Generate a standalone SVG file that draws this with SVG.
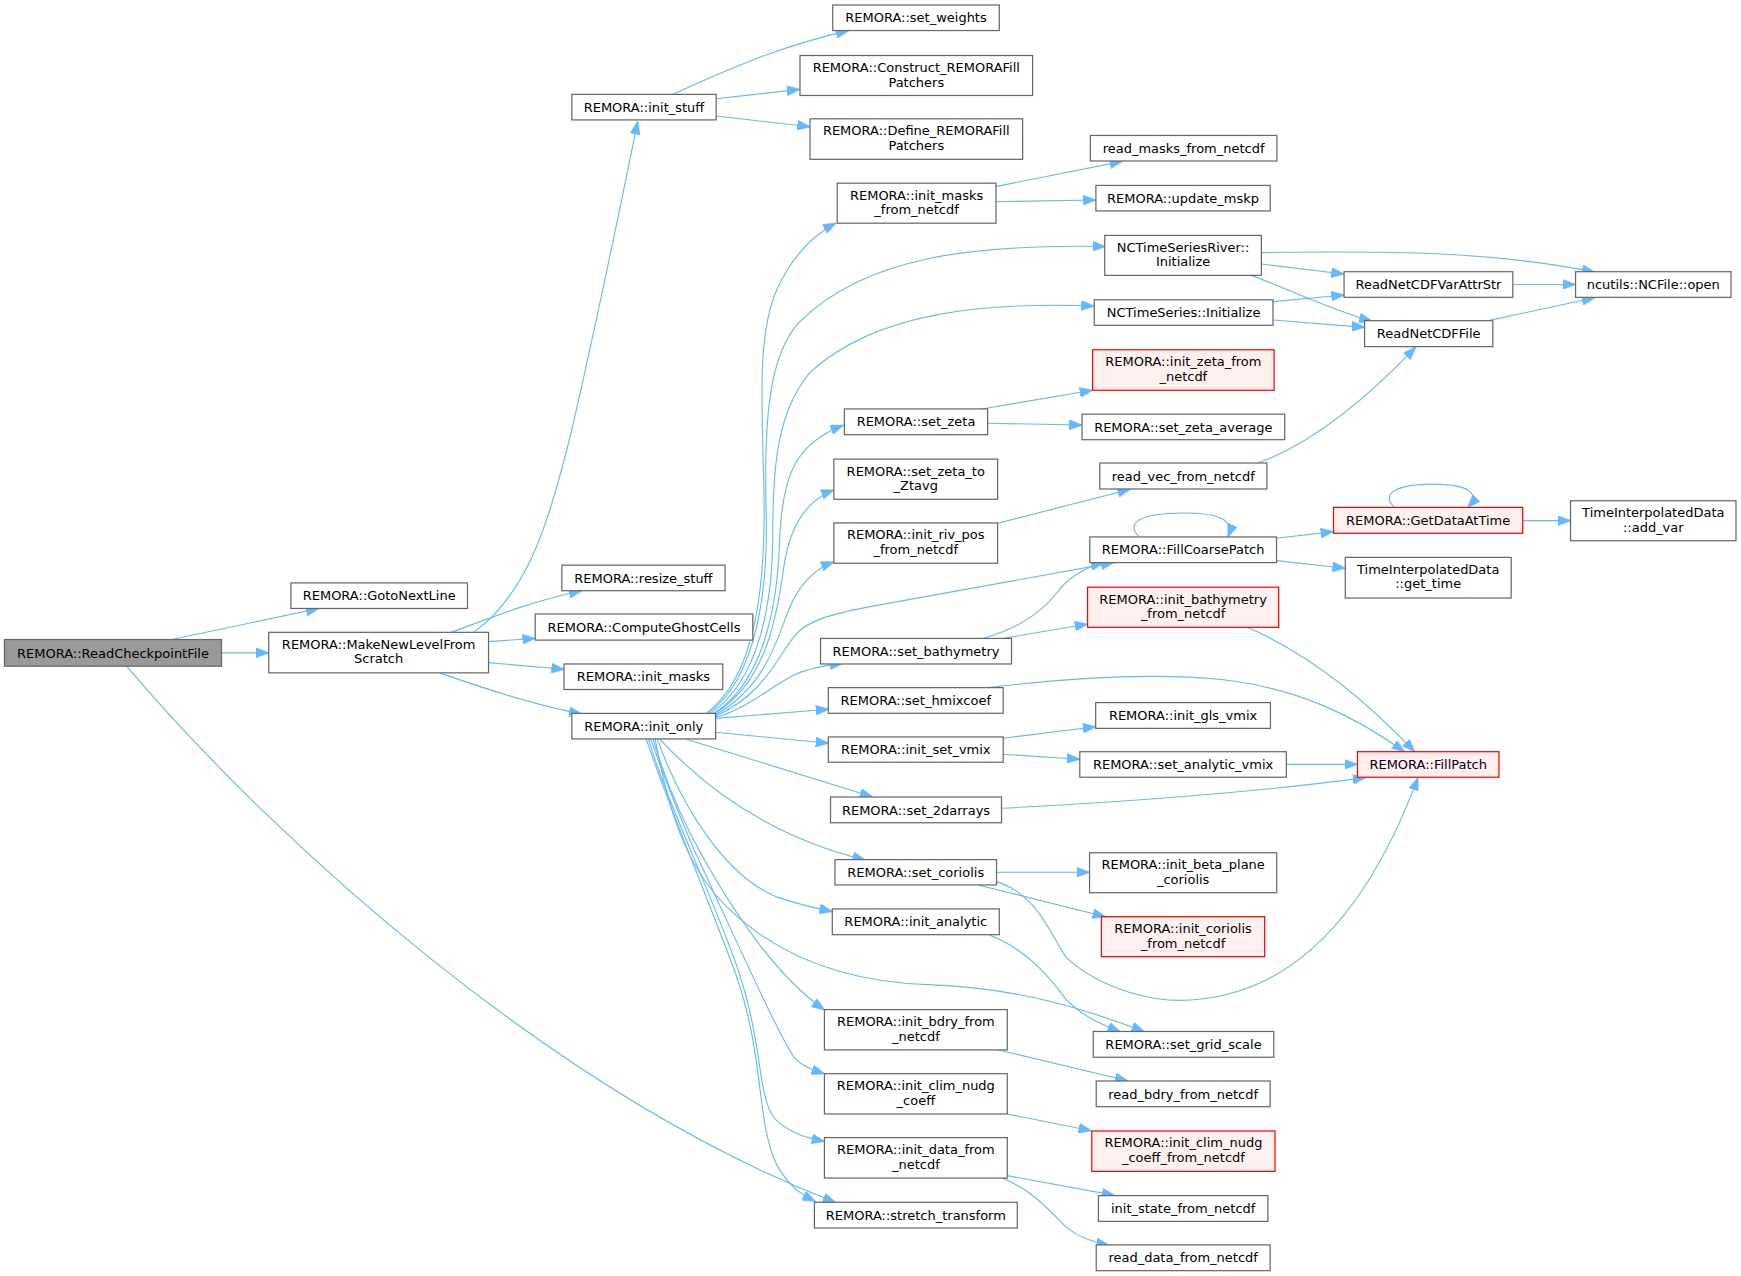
<svg xmlns="http://www.w3.org/2000/svg" width="1741" height="1276" viewBox="0 0 1741 1276">
<style>
.n rect{fill:#ffffff;stroke:#666666;stroke-width:1.1}
.r rect{fill:#FFF0F0;stroke:#FF0000;stroke-width:1.1}
.root rect{fill:#999999;stroke:#666666;stroke-width:1.1}
text{font-family:"DejaVu Sans","Liberation Sans",sans-serif;font-size:11.7px;text-anchor:middle;fill:#000000}
.e path{fill:none;stroke:#63B8FF;stroke-width:1;marker-end:url(#a)}
</style>
<defs>
<marker id="a" markerUnits="userSpaceOnUse" markerWidth="12" markerHeight="9" viewBox="0 0 12 9" refX="11.5" refY="4.5" orient="auto">
<path d="M0,0 L12,4.5 L0,9 z" fill="#63B8FF" stroke="#63B8FF" stroke-width="0.5"/>
</marker>
</defs>
<rect width="1741" height="1276" fill="#ffffff"/>
<g transform="scale(1.11033)">
<g id="edges" class="e">
<path d="M155.6,575.8 L287.2,548"/>
<path d="M199.5,588 L242,588"/>
<path d="M114,600 C 250,760 500,985 752.6,1083"/>
<path d="M426.5,569.5 C 475,535 495,470 515,387 C 535,300 560,180 574.3,109.5"/>
<path d="M406.5,569.5 C 440,557 480,541 524,532"/>
<path d="M439.8,577.9 L482.1,574.9"/>
<path d="M439.8,596.8 L508.1,602.8"/>
<path d="M395.5,605.8 C 430,618 480,635 524,643"/>
<path d="M605.9,85 C 650,65 700,42 764.3,27.6"/>
<path d="M645,88.9 L720.2,80.5"/>
<path d="M645,104.5 L729.6,114.1"/>
<path d="M636,642.5 C 680,610 690,530 688,440 C 686,360 682,300 700,260 C 715,228 735,210 753,201"/>
<path d="M638,642.5 C 682,610 692,530 690,460 C 688,380 692,320 720,290 C 780,230 880,220 995.6,222"/>
<path d="M640,642.5 C 685,612 696,540 696,480 C 696,420 700,370 730,335 C 790,280 890,272 985.3,275.6"/>
<path d="M642,643 C 688,615 700,545 702,490 C 704,430 715,400 759.5,383"/>
<path d="M643,643 C 690,615 700,555 706,510 C 712,470 728,450 751,441.3"/>
<path d="M644,644 C 690,618 700,575 710,550 C 720,525 735,512 751,506"/>
<path d="M644,645 C 690,625 700,590 718,570 C 730,558 750,553 780,547 L 1003,506.7"/>
<path d="M644,646 C 670,640 692,620 715,608 C 730,601 745,599 759,597.5"/>
<path d="M644.3,647 L746.2,638.8"/>
<path d="M644.3,659.5 L746.2,669.4"/>
<path d="M617.6,665.5 L786,717.8"/>
<path d="M594,665.5 C 640,715 700,755 779.2,774.5"/>
<path d="M592,665.5 C 615,730 655,790 700,808 C 720,815 735,818 749.6,821"/>
<path d="M590,665.5 C 600,720 615,780 657,819 C 700,860 760,885 840,887 C 920,890 980,910 1030.6,929"/>
<path d="M588,665.5 C 600,705 615,740 632,770 C 660,820 700,880 742.5,909.5"/>
<path d="M586,665.5 C 600,705 612,735 625,765 C 660,840 700,930 715,952 C 722,960 730,963 742.5,967"/>
<path d="M584,665.5 C 600,720 630,780 660,860 C 690,940 680,990 700,1010 C 715,1022 728,1025 742.5,1028"/>
<path d="M582,665.5 C 600,720 630,790 660,870 C 690,950 680,1010 700,1050 C 712,1070 722,1076 734.3,1082"/>
<path d="M884.2,368.3 L984,351.5"/>
<path d="M889.2,381.2 L974.5,382.8"/>
<path d="M896.5,168.1 L1010.8,145.3"/>
<path d="M896.5,181.7 L987,180.1"/>
<path d="M898.5,471.3 L1018,440.6"/>
<path d="M904.2,574.9 L979.5,562"/>
<path d="M885.8,574.9 C 920,565 940,550 955,530 C 965,518 980,510 994,507"/>
<path d="M890.8,619.3 C 950,612 1030,605 1100,612 C 1170,620 1220,645 1265,677"/>
<path d="M903.5,664.9 L986.8,654.5"/>
<path d="M903.5,679.3 L972.5,683.8"/>
<path d="M901.9,728 C 1000,723 1120,715 1230,700.4"/>
<path d="M897.5,785.6 L981.3,785.6"/>
<path d="M880.9,797 L995.6,825.6"/>
<path d="M897.5,794 C 935,806 945,840 960,862 C 990,890 1040,905 1080,900 C 1180,890 1240,800 1277,700.4"/>
<path d="M890.9,842 C 925,855 945,880 960,900 C 975,915 990,922 1009,929"/>
<path d="M899.2,945.6 L1015.6,973.4"/>
<path d="M907.2,1003.3 L982.9,1018.4"/>
<path d="M907.2,1058.8 L1003.9,1076.6"/>
<path d="M902.5,1061 C 930,1072 945,1090 960,1105 C 972,1115 985,1119 999,1121.6"/>
<path d="M1136,227.5 C 1250,226 1340,226 1436.2,245"/>
<path d="M1136.1,237.8 L1210.5,246.8"/>
<path d="M1127,248 C 1160,260 1200,280 1235.6,289.2"/>
<path d="M1146.4,271.7 L1210.5,265.7"/>
<path d="M1146.4,288.2 L1229,294.8"/>
<path d="M1362.5,256.2 L1419,256.2"/>
<path d="M1340.4,288.8 L1436.2,268.2"/>
<path d="M1132.4,417.3 C 1180,400 1230,360 1275,312.6"/>
<path d="M1149.7,484.8 L1201,478.8"/>
<path d="M1149.7,504.9 L1211.6,511.8"/>
<path d="M1026,483.6 C 1012,470 1030,462 1065,462 C 1098,462 1112,468 1106,483.6"/>
<path d="M1256,457 C 1242,444 1260,436 1290,436 C 1322,436 1334,444 1322,457"/>
<path d="M1371.4,468.9 L1414.5,468.9"/>
<path d="M1123.3,565 C 1170,585 1220,620 1274,677"/>
<path d="M1158.5,688.4 L1222.6,688.4"/>
</g>
<g id="ReadCheckpointFile" class="root"><rect x="4" y="576" width="195.5" height="24"/><text x="101.75" y="592.2">REMORA::ReadCheckpointFile</text></g>
<g id="GotoNextLine" class="n"><rect x="262" y="525" width="159" height="23"/><text x="341.5" y="540.7">REMORA::GotoNextLine</text></g>
<g id="MakeNewLevelFromScratch" class="n"><rect x="242" y="569.5" width="198" height="36.5"/><text x="341" y="584.3">REMORA::MakeNewLevelFrom</text><text x="341" y="597.5">Scratch</text></g>
<g id="init_stuff" class="n"><rect x="515" y="85" width="130" height="23"/><text x="580" y="100.7">REMORA::init_stuff</text></g>
<g id="resize_stuff" class="n"><rect x="506" y="509" width="147" height="23"/><text x="579.5" y="524.7">REMORA::resize_stuff</text></g>
<g id="ComputeGhostCells" class="n"><rect x="482" y="553" width="196" height="23.5"/><text x="580" y="569">REMORA::ComputeGhostCells</text></g>
<g id="init_masks" class="n"><rect x="508" y="598" width="143" height="23"/><text x="579.5" y="613.7">REMORA::init_masks</text></g>
<g id="init_only" class="n"><rect x="515" y="642.5" width="129.5" height="23"/><text x="579.75" y="658.2">REMORA::init_only</text></g>
<g id="set_weights" class="n"><rect x="750" y="4.5" width="150" height="23"/><text x="825" y="20.2">REMORA::set_weights</text></g>
<g id="Construct_REMORAFillPatchers" class="n"><rect x="720.5" y="50" width="209.5" height="36"/><text x="825.25" y="64.8">REMORA::Construct_REMORAFill</text><text x="825.25" y="78">Patchers</text></g>
<g id="Define_REMORAFillPatchers" class="n"><rect x="729.5" y="107" width="191.5" height="36.5"/><text x="825.25" y="121.8">REMORA::Define_REMORAFill</text><text x="825.25" y="135">Patchers</text></g>
<g id="init_masks_from_netcdf" class="n"><rect x="754" y="165" width="143" height="36"/><text x="825.5" y="179.8">REMORA::init_masks</text><text x="825.5" y="193">_from_netcdf</text></g>
<g id="set_zeta" class="n"><rect x="760.5" y="368.3" width="129" height="23.2"/><text x="825" y="384.1">REMORA::set_zeta</text></g>
<g id="set_zeta_to_Ztavg" class="n"><rect x="751" y="413.5" width="147.5" height="36.2"/><text x="824.75" y="428.3">REMORA::set_zeta_to</text><text x="824.75" y="441.5">_Ztavg</text></g>
<g id="init_riv_pos_from_netcdf" class="n"><rect x="751" y="471" width="147.5" height="36.3"/><text x="824.75" y="485.8">REMORA::init_riv_pos</text><text x="824.75" y="499">_from_netcdf</text></g>
<g id="set_bathymetry" class="n"><rect x="739" y="575" width="172" height="23"/><text x="825" y="590.7">REMORA::set_bathymetry</text></g>
<g id="set_hmixcoef" class="n"><rect x="746" y="619.3" width="157.5" height="23.1"/><text x="824.75" y="635">REMORA::set_hmixcoef</text></g>
<g id="init_set_vmix" class="n"><rect x="746" y="663.7" width="157.5" height="22.8"/><text x="824.75" y="679.3">REMORA::init_set_vmix</text></g>
<g id="set_2darrays" class="n"><rect x="748" y="717.8" width="154" height="23.2"/><text x="825" y="733.6">REMORA::set_2darrays</text></g>
<g id="set_coriolis" class="n"><rect x="752" y="774.2" width="145.5" height="22.8"/><text x="824.75" y="789.8">REMORA::set_coriolis</text></g>
<g id="init_analytic" class="n"><rect x="749.6" y="818.6" width="150.4" height="23.2"/><text x="824.8" y="834.4">REMORA::init_analytic</text></g>
<g id="init_bdry_from_netcdf" class="n"><rect x="742.5" y="909.3" width="164.7" height="36.3"/><text x="824.85" y="924.1">REMORA::init_bdry_from</text><text x="824.85" y="937.3">_netcdf</text></g>
<g id="init_clim_nudg_coeff" class="n"><rect x="742.5" y="967" width="164.7" height="36.3"/><text x="824.85" y="981.8">REMORA::init_clim_nudg</text><text x="824.85" y="995">_coeff</text></g>
<g id="init_data_from_netcdf" class="n"><rect x="742.5" y="1024.6" width="164.7" height="36.4"/><text x="824.85" y="1039.4">REMORA::init_data_from</text><text x="824.85" y="1052.6">_netcdf</text></g>
<g id="stretch_transform" class="n"><rect x="733.5" y="1082.8" width="182.7" height="23.2"/><text x="824.85" y="1098.6">REMORA::stretch_transform</text></g>
<g id="read_masks_from_netcdf" class="n"><rect x="982" y="122" width="168" height="23"/><text x="1066" y="137.7">read_masks_from_netcdf</text></g>
<g id="update_mskp" class="n"><rect x="987" y="167" width="157" height="23"/><text x="1065.5" y="182.7">REMORA::update_mskp</text></g>
<g id="NCTimeSeriesRiver_Initialize" class="n"><rect x="995" y="212" width="141" height="36"/><text x="1065.5" y="226.8">NCTimeSeriesRiver::</text><text x="1065.5" y="240">Initialize</text></g>
<g id="NCTimeSeries_Initialize" class="n"><rect x="985.5" y="270" width="161" height="23"/><text x="1066" y="285.7">NCTimeSeries::Initialize</text></g>
<g id="init_zeta_from_netcdf" class="r"><rect x="984" y="315" width="163.5" height="36.5"/><text x="1065.75" y="329.8">REMORA::init_zeta_from</text><text x="1065.75" y="343">_netcdf</text></g>
<g id="set_zeta_average" class="n"><rect x="974.5" y="373" width="182.5" height="23"/><text x="1065.75" y="388.7">REMORA::set_zeta_average</text></g>
<g id="read_vec_from_netcdf" class="n"><rect x="990.5" y="417" width="150.5" height="23.4"/><text x="1065.75" y="432.9">read_vec_from_netcdf</text></g>
<g id="FillCoarsePatch" class="n"><rect x="981.5" y="483.6" width="168.2" height="23.1"/><text x="1065.6" y="499.4">REMORA::FillCoarsePatch</text></g>
<g id="init_bathymetry_from_netcdf" class="r"><rect x="979.5" y="528.8" width="172.1" height="36.2"/><text x="1065.55" y="543.6">REMORA::init_bathymetry</text><text x="1065.55" y="556.8">_from_netcdf</text></g>
<g id="init_gls_vmix" class="n"><rect x="986.8" y="632.8" width="157.4" height="23.2"/><text x="1065.5" y="648.6">REMORA::init_gls_vmix</text></g>
<g id="set_analytic_vmix" class="n"><rect x="972.5" y="677" width="186" height="23"/><text x="1065.5" y="692.7">REMORA::set_analytic_vmix</text></g>
<g id="init_beta_plane_coriolis" class="n"><rect x="981.3" y="768" width="168.6" height="36"/><text x="1065.6" y="782.8">REMORA::init_beta_plane</text><text x="1065.6" y="796">_coriolis</text></g>
<g id="init_coriolis_from_netcdf" class="r"><rect x="992" y="825.6" width="147" height="36"/><text x="1065.5" y="840.4">REMORA::init_coriolis</text><text x="1065.5" y="853.6">_from_netcdf</text></g>
<g id="set_grid_scale" class="n"><rect x="984.6" y="929" width="162.6" height="23.2"/><text x="1065.9" y="944.8">REMORA::set_grid_scale</text></g>
<g id="read_bdry_from_netcdf" class="n"><rect x="987.3" y="973.6" width="156.6" height="23.1"/><text x="1065.6" y="989.4">read_bdry_from_netcdf</text></g>
<g id="init_clim_nudg_coeff_from_netcdf" class="r"><rect x="983.3" y="1018.6" width="165" height="36.4"/><text x="1065.8" y="1033.4">REMORA::init_clim_nudg</text><text x="1065.8" y="1046.6">_coeff_from_netcdf</text></g>
<g id="init_state_from_netcdf" class="n"><rect x="989.3" y="1076.8" width="152.6" height="23.2"/><text x="1065.6" y="1092.6">init_state_from_netcdf</text></g>
<g id="read_data_from_netcdf" class="n"><rect x="987.3" y="1121.2" width="156.6" height="23.2"/><text x="1065.6" y="1137">read_data_from_netcdf</text></g>
<g id="ReadNetCDFVarAttrStr" class="n"><rect x="1210.5" y="244.7" width="152" height="23.1"/><text x="1286.5" y="260.5">ReadNetCDFVarAttrStr</text></g>
<g id="ReadNetCDFFile" class="n"><rect x="1229" y="288.8" width="115.5" height="23.4"/><text x="1286.75" y="304.7">ReadNetCDFFile</text></g>
<g id="GetDataAtTime" class="r"><rect x="1201" y="457" width="170.4" height="23.3"/><text x="1286.2" y="472.9">REMORA::GetDataAtTime</text></g>
<g id="get_time" class="n"><rect x="1211.6" y="502" width="149.4" height="36.6"/><text x="1286.3" y="516.8">TimeInterpolatedData</text><text x="1286.3" y="530">::get_time</text></g>
<g id="FillPatch" class="r"><rect x="1222.6" y="677" width="127.4" height="23"/><text x="1286.3" y="692.7">REMORA::FillPatch</text></g>
<g id="NCFile_open" class="n"><rect x="1419" y="244.7" width="140" height="23.1"/><text x="1489" y="260.5">ncutils::NCFile::open</text></g>
<g id="add_var" class="n"><rect x="1414.5" y="451" width="149" height="36"/><text x="1489" y="465.8">TimeInterpolatedData</text><text x="1489" y="479">::add_var</text></g>
</g>
</svg>
